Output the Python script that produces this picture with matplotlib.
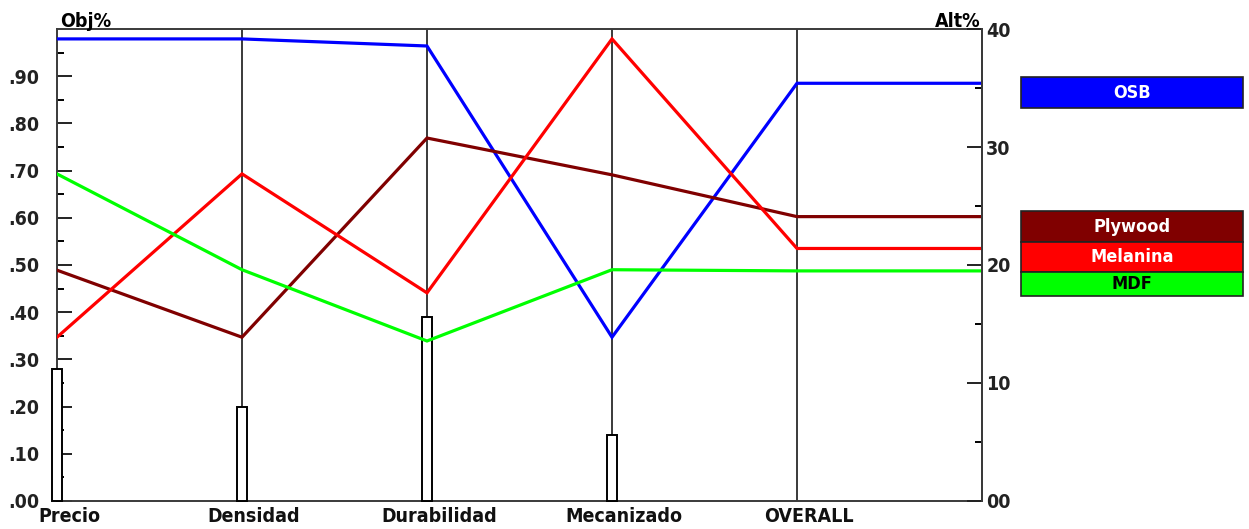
import matplotlib.pyplot as plt
from matplotlib.patches import Rectangle
from matplotlib.transforms import offset_copy

plt.rcParams['font.family'] = ['DejaVu Sans']
plt.rcParams['font.weight'] = 'bold'
plt.rcParams['font.stretch'] = 'condensed'

# criterios y prioridad de cada uno (eje izquierdo Obj%)
criterios = ['Precio', 'Densidad', 'Durabilidad', 'Mecanizado']
prioridad = [0.28, 0.20, 0.39, 0.14]

# desempeño de cada alternativa en cada criterio (eje izquierdo)
alternativas = ['OSB', 'Plywood', 'Melanina', 'MDF']
osb = [0.979, 0.979, 0.964, 0.347]
plywood = [0.489, 0.347, 0.769, 0.691]
melanina = [0.347, 0.693, 0.441, 0.979]
mdf = [0.693, 0.490, 0.339, 0.490]

# resultado global (eje derecho Alt%)
overall = [35.4, 24.1, 21.4, 19.5]

colores = ['#0000ff', '#800000', '#ff0000', '#00ff00']
texto_col = ['white', 'white', 'white', 'black']

W, H = 1249, 529
fig = plt.figure(figsize=(W / 100, H / 100), dpi=100)
ax = fig.add_axes([57 / W, 28 / H, 925 / W, 472 / H])
ax2 = ax.twinx()
for lado in ('left', 'top', 'bottom'):
    ax2.spines[lado].set_visible(False)

xs = list(range(len(criterios)))
x_all = xs + [4, 5]

# líneas verticales de cada criterio
for x in xs[1:] + [4]:
    ax.axvline(x, color='#3a3a3a', lw=1.4, zorder=1)

# barras de prioridad
bars = ax.bar(xs, prioridad, width=0.055, color='white', edgecolor='black',
              linewidth=1.4, zorder=3)
for b in bars:
    b.set_clip_on(False)

# líneas de desempeño
series = [osb, plywood, melanina, mdf]
for vals, tot, c in zip(series, overall, colores):
    ys = vals + [tot / 40, tot / 40]
    ax.plot(x_all, ys, color=c, lw=2.3, zorder=4, solid_joinstyle='miter')

ax.set_xlim(0, 5)
ax.set_ylim(0, 1)
ax2.set_ylim(0, 40)
ax.set_xticks([])

ax.set_yticks([i / 10 for i in range(10)])
ax.set_yticklabels(['.%d0' % i for i in range(10)])
ax.set_yticks([i / 20 for i in range(1, 20, 2)], minor=True)
ax.tick_params(axis='y', which='major', direction='in', length=11, width=1.4,
               pad=13, labelsize=14, colors='#222222')
ax.tick_params(axis='y', which='minor', direction='in', length=5, width=1.4)

ax2.set_yticks([0, 10, 20, 30, 40])
ax2.set_yticklabels(['00', '10', '20', '30', '40'])
ax2.set_yticks([5, 15, 25, 35], minor=True)
ax2.tick_params(axis='y', which='major', direction='in', length=11, width=1.4,
                pad=3, labelsize=14, colors='#222222')
ax2.tick_params(axis='y', which='minor', direction='in', length=5, width=1.4)

for a in (ax, ax2):
    for s in a.spines.values():
        s.set_color('#3a3a3a')
        s.set_linewidth(1.4)

# nombres de los criterios bajo el eje
nombres = criterios + ['OVERALL']
tr = offset_copy(ax.get_xaxis_transform(), fig=fig, x=12, y=0, units='dots')
for x, n in zip(range(5), nombres):
    ax.text(x, -0.012, n, transform=tr, ha='center', va='top', fontsize=14,
            color='#111111')

fig.text(60 / W, 1 - 27 / H, 'Obj%', ha='left', va='baseline', fontsize=14)
fig.text(981 / W, 1 - 27 / H, 'Alt%', ha='right', va='baseline', fontsize=14)

# cajas de leyenda
cajas = [(77, 108), (211, 242), (242, 272), (272, 296)]
for (y0, y1), nom, c, tc in zip(cajas, alternativas, colores, texto_col):
    fig.add_artist(Rectangle((1021 / W, 1 - y1 / H), 222 / W, (y1 - y0) / H,
                             transform=fig.transFigure, facecolor=c,
                             edgecolor='#222222', lw=1.2))
    fig.text(1132 / W, 1 - (y0 + y1) / 2 / H, nom, ha='center', va='center',
             color=tc, fontsize=13)

fig.savefig('out.png', dpi=100)
